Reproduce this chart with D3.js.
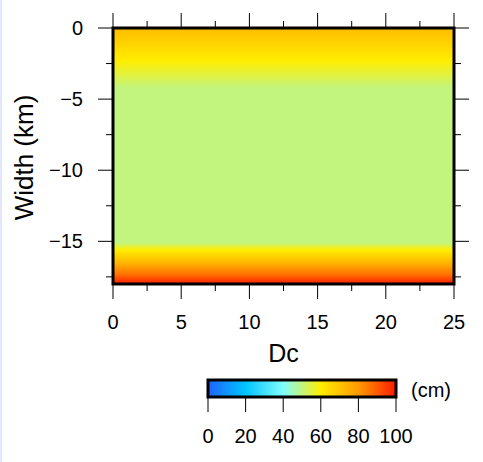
<!DOCTYPE html>
<html>
<head>
<meta charset="utf-8">
<script src="https://cdn.jsdelivr.net/npm/d3@7"></script>
<style>
  body { margin: 0; background: #fff; }
  svg { display: block; font-family: "Liberation Sans", Arial, sans-serif; }
</style>
</head>
<body>
<svg id="chart" width="483" height="462"></svg>
<script>
// --- Datos ---
// perfil de Dc con la profundidad (constante a lo largo del rumbo)
const depths = [0, -1, -2.3, -3.3, -4.2, -15.1, -15.6, -16.5, -17.3, -18];
const dcValues = [72, 67, 60, 55, 50, 50, 60, 73, 86, 100];
// paleta de colores (cm)
const cptValues = [0, 20, 40, 50, 60, 80, 100];
const cptColors = ['#1e64ff', '#00c4ff', '#80ffff', '#c2f57e', '#ffee00', '#ff9a00', '#ff1a00'];
// ejes
const xTicks = [0, 5, 10, 15, 20, 25];
const yTicks = [0, -5, -10, -15];
const cbTicks = [0, 20, 40, 60, 80, 100];

const svg = d3.select('#chart');

// franja azul clara del borde izquierdo
svg.append('rect').attr('x', 0).attr('y', 0).attr('width', 2).attr('height', 462).attr('fill', '#e2e7fb');

const x = d3.scaleLinear().domain([0, 25]).range([113, 454]);
const y = d3.scaleLinear().domain([0, -18]).range([28, 284]);
const color = d3.scaleLinear().domain(cptValues).range(cptColors).clamp(true);

const defs = svg.append('defs');

// --- Degradado del campo ---
const grad = defs.append('linearGradient')
  .attr('id', 'field').attr('gradientUnits', 'userSpaceOnUse')
  .attr('x1', 0).attr('x2', 0).attr('y1', y(0)).attr('y2', y(-18));
grad.selectAll('stop').data(depths).enter().append('stop')
  .attr('offset', d => (y(d) - y(0)) / (y(-18) - y(0)))
  .attr('stop-color', (d, i) => color(dcValues[i]));

svg.append('rect')
  .attr('x', x(0)).attr('y', y(0))
  .attr('width', x(25) - x(0)).attr('height', y(-18) - y(0))
  .attr('fill', 'url(#field)');

// --- Marcas de los ejes ---
const minorX = d3.range(0, 25.01, 2.5);
const minorY = d3.range(0, -18.01, -2.5);
const tk = svg.append('g').attr('stroke', '#000').attr('stroke-width', 1);

minorX.forEach(v => {
  const major = v % 5 === 0;
  const len = major ? 15 : 7;
  tk.append('line').attr('x1', x(v)).attr('x2', x(v)).attr('y1', y(0)).attr('y2', y(0) - len);
  tk.append('line').attr('x1', x(v)).attr('x2', x(v)).attr('y1', y(-18)).attr('y2', y(-18) + len);
});
minorY.forEach(v => {
  const major = v % 5 === 0;
  const len = major ? 15 : 7;
  tk.append('line').attr('y1', y(v)).attr('y2', y(v)).attr('x1', x(0)).attr('x2', x(0) - len);
  tk.append('line').attr('y1', y(v)).attr('y2', y(v)).attr('x1', x(25)).attr('x2', x(25) + len);
});

// marco
svg.append('rect')
  .attr('x', x(0)).attr('y', y(0))
  .attr('width', x(25) - x(0)).attr('height', y(-18) - y(0))
  .attr('fill', 'none').attr('stroke', '#000').attr('stroke-width', 3);

// etiquetas
svg.append('g').selectAll('text').data(xTicks).enter().append('text')
  .attr('x', d => x(d)).attr('y', 329)
  .attr('text-anchor', 'middle').attr('font-size', 20)
  .text(d => d);

svg.append('g').selectAll('text').data(yTicks).enter().append('text')
  .attr('x', 83).attr('y', d => y(d) + 7)
  .attr('text-anchor', 'end').attr('font-size', 20)
  .text(d => d < 0 ? '\u2212' + Math.abs(d) : d);

svg.append('text')
  .attr('x', x(12.5)).attr('y', 362)
  .attr('text-anchor', 'middle').attr('font-size', 25)
  .text('Dc');

svg.append('text')
  .attr('transform', 'translate(33,157.5) rotate(-90)')
  .attr('text-anchor', 'middle').attr('font-size', 26)
  .text('Width (km)');

// --- Barra de colores ---
const cb = d3.scaleLinear().domain([0, 100]).range([208, 396]);
const cbGrad = defs.append('linearGradient')
  .attr('id', 'cbar').attr('gradientUnits', 'userSpaceOnUse')
  .attr('x1', cb(0)).attr('x2', cb(100)).attr('y1', 0).attr('y2', 0);
cbGrad.selectAll('stop').data(cptValues).enter().append('stop')
  .attr('offset', d => d / 100)
  .attr('stop-color', d => color(d));

svg.append('rect')
  .attr('x', cb(0)).attr('y', 380)
  .attr('width', cb(100) - cb(0)).attr('height', 17)
  .attr('fill', 'url(#cbar)').attr('stroke', '#000').attr('stroke-width', 3);

svg.append('g').selectAll('line').data(cbTicks).enter().append('line')
  .attr('x1', d => cb(d)).attr('x2', d => cb(d))
  .attr('y1', 398).attr('y2', 412)
  .attr('stroke', '#000').attr('stroke-width', 1);

svg.append('g').selectAll('text').data(cbTicks).enter().append('text')
  .attr('x', d => cb(d)).attr('y', 443)
  .attr('text-anchor', 'middle').attr('font-size', 20)
  .text(d => d);

svg.append('text')
  .attr('x', 411).attr('y', 397)
  .attr('font-size', 20)
  .text('(cm)');
</script>
</body>
</html>
